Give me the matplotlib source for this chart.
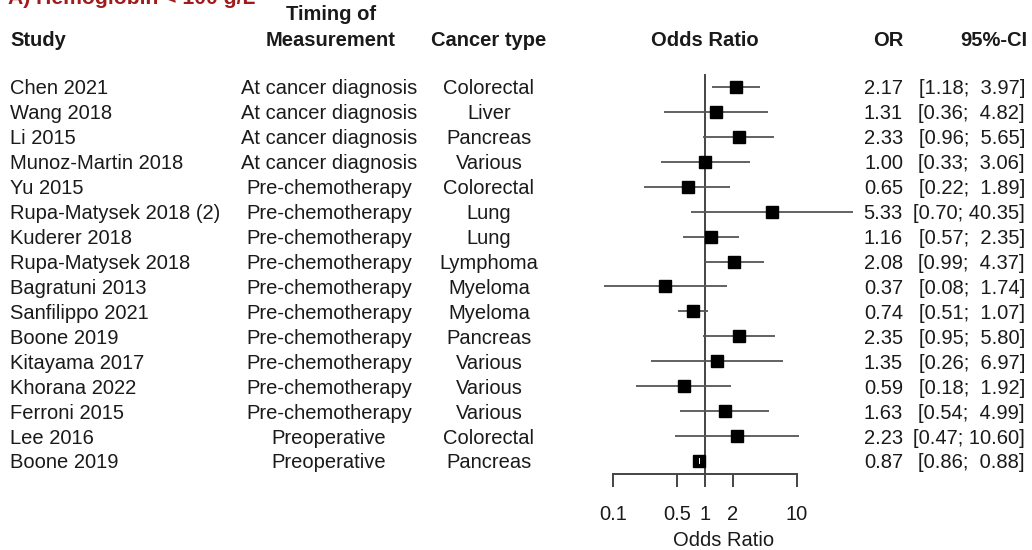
import matplotlib.pyplot as plt
import matplotlib.transforms as mtransforms

plt.rcParams['font.family'] = ['Liberation Sans', 'DejaVu Sans']

studies = ["Chen 2021", "Wang 2018", "Li 2015", "Munoz-Martin 2018", "Yu 2015",
           "Rupa-Matysek 2018 (2)", "Kuderer 2018", "Rupa-Matysek 2018",
           "Bagratuni 2013", "Sanfilippo 2021", "Boone 2019", "Kitayama 2017",
           "Khorana 2022", "Ferroni 2015", "Lee 2016", "Boone 2019"]
timing = ["At cancer diagnosis"] * 4 + ["Pre-chemotherapy"] * 10 + ["Preoperative"] * 2
cancer = ["Colorectal", "Liver", "Pancreas", "Various", "Colorectal", "Lung", "Lung",
          "Lymphoma", "Myeloma", "Myeloma", "Pancreas", "Various", "Various",
          "Various", "Colorectal", "Pancreas"]
odds = [2.17, 1.31, 2.33, 1.00, 0.65, 5.33, 1.16, 2.08, 0.37, 0.74, 2.35, 1.35,
        0.59, 1.63, 2.23, 0.87]
ci_low = [1.18, 0.36, 0.96, 0.33, 0.22, 0.70, 0.57, 0.99, 0.08, 0.51, 0.95, 0.26,
          0.18, 0.54, 0.47, 0.86]
ci_high = [3.97, 4.82, 5.65, 3.06, 1.89, 40.35, 2.35, 4.37, 1.74, 1.07, 5.80, 6.97,
           1.92, 4.99, 10.60, 0.88]
ticks = [0.1, 0.5, 1, 2, 10]
tick_labels = ["0.1", "0.5", "1", "2", "10"]

W, H = 1032, 550
fig = plt.figure(figsize=(W / 100, H / 100), dpi=100)

# forest panel placed in pixel units
left_px, right_px, top_px, bottom_px = 585.3, 861.3, 60, 474
ax = fig.add_axes([left_px / W, 1 - bottom_px / H,
                   (right_px - left_px) / W, (bottom_px - top_px) / H])
ax.set_xscale("log")
ax.set_xlim(0.05, 50)
row_h = 24.93
ax.set_ylim((bottom_px - 87) / row_h, (top_px - 87) / row_h)

n = len(studies)
rows = list(range(n))
FS = 14.5
TXT = "#1a1a1a"

# reference line at OR = 1
ax.plot([1, 1], [-0.48, ax.get_ylim()[0]], color="#444444", lw=1.4, zorder=1,
        clip_on=False)

for i in rows:
    ax.plot([ci_low[i], ci_high[i]], [i, i], color="#555555", lw=1.3, zorder=2,
            solid_capstyle="butt")
ax.plot(odds, rows, ls="none", marker="s", ms=8.6, color="black", zorder=3)
# CI narrower than the box: drawn in white on top of it
for i in rows:
    if ci_high[i] / ci_low[i] < 1.1:
        ax.plot([ci_low[i], ci_high[i]], [i, i], color="white", lw=4.2,
                solid_capstyle="butt", zorder=4)

for s in ["top", "right", "left"]:
    ax.spines[s].set_visible(False)
ax.spines["bottom"].set_bounds(0.1, 10)
ax.spines["bottom"].set_color("#444444")
ax.spines["bottom"].set_linewidth(1.4)
ax.set_yticks([])
ax.set_xticks(ticks)
ax.set_xticklabels(tick_labels)
ax.minorticks_off()
ax.tick_params(axis="x", length=9, width=1.4, color="#444444", pad=13,
               labelsize=FS, labelcolor=TXT)
ax.set_xlabel("Odds Ratio", fontsize=FS, color=TXT, labelpad=5)
ax.patch.set_visible(False)

# text columns: x as figure fraction, y in row units
tr = mtransforms.blended_transform_factory(fig.transFigure, ax.transData)


def col(x_px, y, s, ha, bold=False, color=TXT, va="center_baseline", size=FS):
    fig.text(x_px / W, y, s, transform=tr, ha=ha, va=va, fontsize=size,
             fontweight="bold" if bold else "normal", color=color)


hdr = (38 - 87) / row_h
col(8, (4 - 87) / row_h, "A) Hemoglobin < 100 g/L", "left", bold=True,
    color="#a01c1c", va="baseline", size=15.2)
col(10, hdr, "Study", "left", bold=True)
col(331, (12 - 87) / row_h, "Timing of", "center", bold=True)
col(331, hdr, "Measurement", "center", bold=True)
col(489, hdr, "Cancer type", "center", bold=True)
col(705, hdr, "Odds Ratio", "center", bold=True)
col(903, hdr, "OR", "right", bold=True)
col(1027, hdr, "95%-CI", "right", bold=True)

for i in rows:
    col(10, i, studies[i], "left")
    col(329, i, timing[i], "center")
    col(489, i, cancer[i], "center")
    col(903, i, f"{odds[i]:.2f}", "right")
    lo = f"{ci_low[i]:.2f}"
    hi = f"{ci_high[i]:.2f}"
    pad = "  " if len(hi) < 5 else " "
    col(1025, i, f"[{lo};{pad}{hi}]", "right")

fig.savefig("out.png", dpi=100, facecolor="white")
